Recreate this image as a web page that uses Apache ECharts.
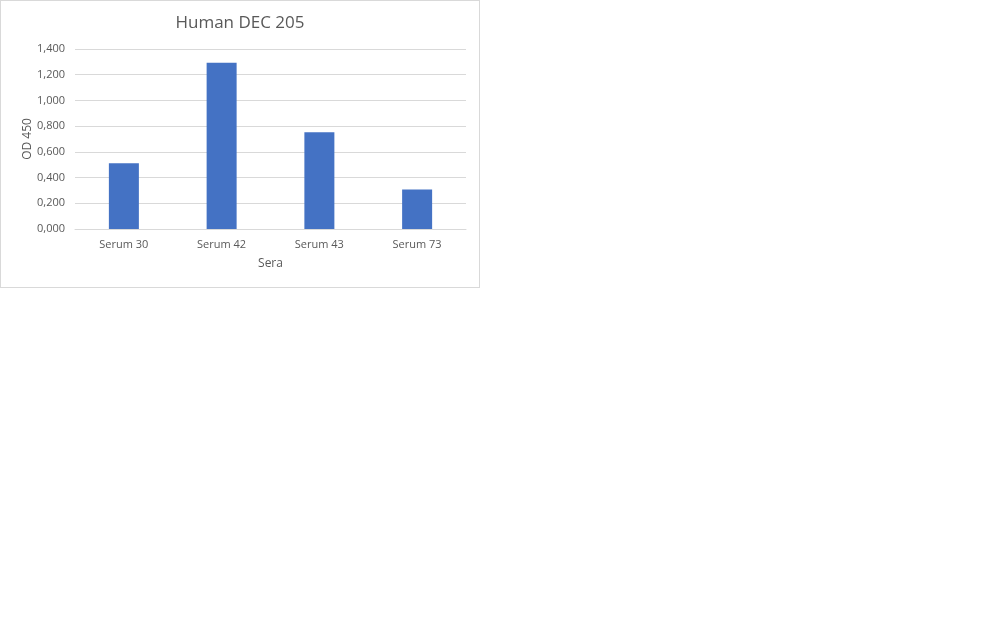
<!DOCTYPE html>
<html>
<head>
<meta charset="utf-8">
<script src="https://cdn.jsdelivr.net/npm/echarts@6/dist/echarts.min.js"></script>
<style>
    body { margin: 0; background: #fff; }
    #chart { position: absolute; left: 0; top: 0; width: 478px; height: 286px; border: 1px solid #d9d9d9; }
</style>
</head>
<body>
<div id="chart"></div>
<script>
// data
const categories = ['Serum 30', 'Serum 42', 'Serum 43', 'Serum 73'];
const od450 = [0.511, 1.293, 0.753, 0.308];
const yTicks = [0, 0.2, 0.4, 0.6, 0.8, 1.0, 1.2, 1.4];

const myChart = echarts.init(document.getElementById('chart'));

const fontFamily = '"Open Sans", "Noto Sans", sans-serif';

const option = {
    animation: false,
    title: {
        text: 'Human DEC 205',
        left: 'center',
        top: 9,
        textStyle: { fontFamily: fontFamily, fontSize: 17, fontWeight: 'normal', color: '#595959' }
    },
    grid: { left: 74, right: 13, top: 48, bottom: 58, outerBoundsMode: 'none' },
    xAxis: {
        type: 'category',
        data: categories,
        name: 'Sera',
        nameLocation: 'middle',
        nameGap: 29,
        nameTextStyle: { fontFamily: fontFamily, fontSize: 12, color: '#595959' },
        axisLine: { lineStyle: { color: '#d9d9d9' } },
        axisTick: { show: false },
        axisLabel: { fontFamily: fontFamily, fontSize: 11, color: '#595959', margin: 10 }
    },
    yAxis: {
        type: 'value',
        min: yTicks[0],
        max: yTicks[yTicks.length - 1],
        interval: 0.2,
        name: 'OD 450',
        nameLocation: 'middle',
        nameGap: 41,
        nameMoveOverlap: false,
        nameRotate: 90,
        nameTextStyle: { fontFamily: fontFamily, fontSize: 12, color: '#595959' },
        axisLine: { show: false },
        axisTick: { show: false },
        splitLine: { lineStyle: { color: '#d9d9d9' } },
        axisLabel: {
            fontFamily: fontFamily, fontSize: 11, color: '#595959', margin: 10,
            formatter: v => v.toFixed(3).replace('.', ',') // decimal comma, like the original
        }
    },
    series: [
        {
            name: 'OD 450',
            type: 'bar',
            data: od450,
            barWidth: 30,
            itemStyle: { color: '#4472c4' }
        }
    ]
};

myChart.setOption(option);
</script>
</body>
</html>
